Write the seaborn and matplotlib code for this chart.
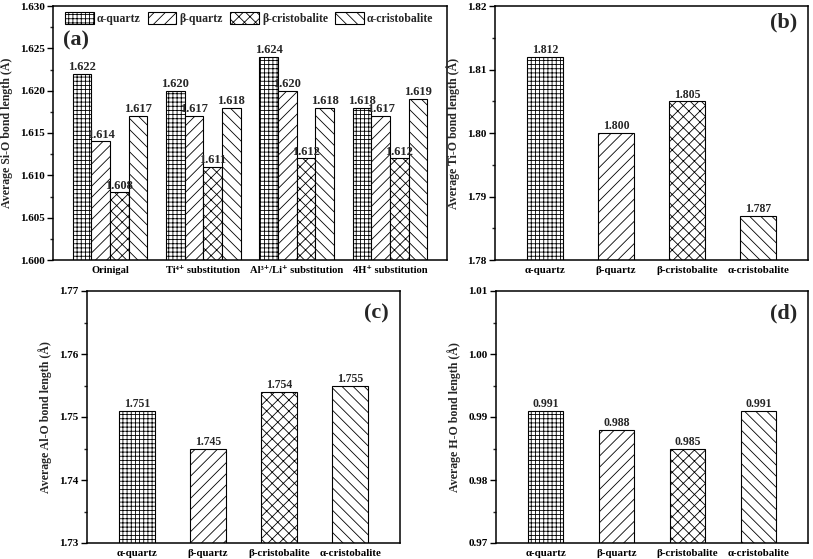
import matplotlib
matplotlib.use('Agg')
import matplotlib.pyplot as plt
from matplotlib.ticker import MultipleLocator, FormatStrFormatter
import pandas as pd
import seaborn as sns

phases = ['α-quartz', 'β-quartz', 'β-cristobalite', 'α-cristobalite']
subs = ['Orinigal', 'Ti⁴⁺ substitution', 'Al³⁺/Li⁺ substitution', '4H⁺ substitution']

# Si-O bond length per phase, one value per substitution case
si_o_alpha_q = [1.622, 1.620, 1.624, 1.618]
si_o_beta_q = [1.614, 1.617, 1.620, 1.617]
si_o_beta_c = [1.608, 1.611, 1.612, 1.612]
si_o_alpha_c = [1.617, 1.618, 1.618, 1.619]

ti_o = [1.812, 1.800, 1.805, 1.787]
al_o = [1.751, 1.745, 1.754, 1.755]
h_o = [0.991, 0.988, 0.985, 0.991]

hatches = ['++++', '///', 'xxx', '\\\\\\']

sns.set_theme(style='ticks')
plt.rcParams['font.family'] = ['Liberation Serif', 'DejaVu Serif']
plt.rcParams['font.weight'] = 'bold'
plt.rcParams['axes.labelweight'] = 'bold'
plt.rcParams['hatch.linewidth'] = 0.6
plt.rcParams['hatch.color'] = 'black'
plt.rcParams['axes.linewidth'] = 1.1
plt.rcParams['axes.edgecolor'] = 'black'


def style_axis(ax, ylo, yhi, step, fmt, ylabel, xfs):
    ax.set_ylim(ylo, yhi)
    ax.yaxis.set_major_locator(MultipleLocator(step))
    ax.yaxis.set_minor_locator(MultipleLocator(step / 2))
    ax.yaxis.set_major_formatter(FormatStrFormatter(fmt))
    ax.tick_params(axis='y', which='major', direction='out', length=4, width=1,
                   labelsize=8, colors='black', pad=2)
    ax.tick_params(axis='y', which='minor', direction='out', length=2.5, width=1)
    ax.tick_params(axis='x', length=0, labelsize=xfs, colors='black', pad=4)
    for lab in ax.get_xticklabels() + ax.get_yticklabels():
        lab.set_fontweight('bold')
    ax.set_xlabel('')
    ax.set_ylabel(ylabel, fontsize=8.6, fontweight='bold', labelpad=5)
    for s in ax.spines.values():
        s.set_visible(True)
        s.set_linewidth(1.1)


fig = plt.figure(figsize=(8.13, 5.59), dpi=100)
W, H = 813, 559


def px_axes(left, top, right, bottom):
    return fig.add_axes([left / W, 1 - bottom / H, (right - left) / W, (bottom - top) / H])


# (a) Si-O
ax_a = px_axes(53, 6, 447, 260)
df_a = pd.DataFrame({
    'case': subs * 4,
    'phase': [p for p in phases for _ in subs],
    'length': si_o_alpha_q + si_o_beta_q + si_o_beta_c + si_o_alpha_c,
})
sns.barplot(data=df_a, x='case', y='length', hue='phase', palette=['white'] * 4,
            edgecolor='black', linewidth=0.8, width=0.8, ax=ax_a)
for cont, h in zip(ax_a.containers, hatches):
    for p in cont.patches:
        p.set_hatch(h)
    ax_a.bar_label(cont, fmt='%.3f', fontsize=9, fontweight='bold', padding=0.5)
ax_a.set_xlim(-0.61, 3.61)
style_axis(ax_a, 1.600, 1.630, 0.005, '%.3f', 'Average Si-O bond length (Å)', 7.6)
handles = [c.patches[0] for c in ax_a.containers]
ax_a.legend(handles, phases, loc='upper left', bbox_to_anchor=(0.01, 1.01), ncol=4,
            frameon=False, handlelength=2.4, handleheight=1.2,
            handletextpad=0.3, columnspacing=0.6, borderaxespad=0.3,
            prop={'weight': 'bold', 'size': 8.5})
ax_a.text(0.025, 0.865, '(a)', transform=ax_a.transAxes, fontsize=16, fontweight='bold',
          va='center', ha='left')


def single_panel(ax, vals, ylo, yhi, ylabel, tag, tag_y):
    sns.barplot(x=phases, y=vals, hue=phases, palette=['white'] * 4, legend=False,
                edgecolor='black', linewidth=0.8, width=0.5, ax=ax)
    for cont, h in zip(ax.containers, hatches):
        for p in cont.patches:
            p.set_hatch(h)
        ax.bar_label(cont, fmt='%.3f', fontsize=8.5, fontweight='bold', padding=0.5)
    ax.set_xlim(-0.7, 3.7)
    style_axis(ax, ylo, yhi, 0.01, '%.2f', ylabel, 7.8)
    ax.text(0.965, tag_y, tag, transform=ax.transAxes, fontsize=16, fontweight='bold',
            va='center', ha='right')


ax_b = px_axes(495, 6, 808, 260)
single_panel(ax_b, ti_o, 1.78, 1.82, 'Average Ti-O bond length (Å)', '(b)', 0.935)

ax_c = px_axes(87, 291, 400, 543)
single_panel(ax_c, al_o, 1.73, 1.77, 'Average Al-O bond length (Å)', '(c)', 0.91)

ax_d = px_axes(496, 291, 808, 543)
single_panel(ax_d, h_o, 0.97, 1.01, 'Average H-O bond length (Å)', '(d)', 0.91)

fig.savefig('out.png', dpi=100)
